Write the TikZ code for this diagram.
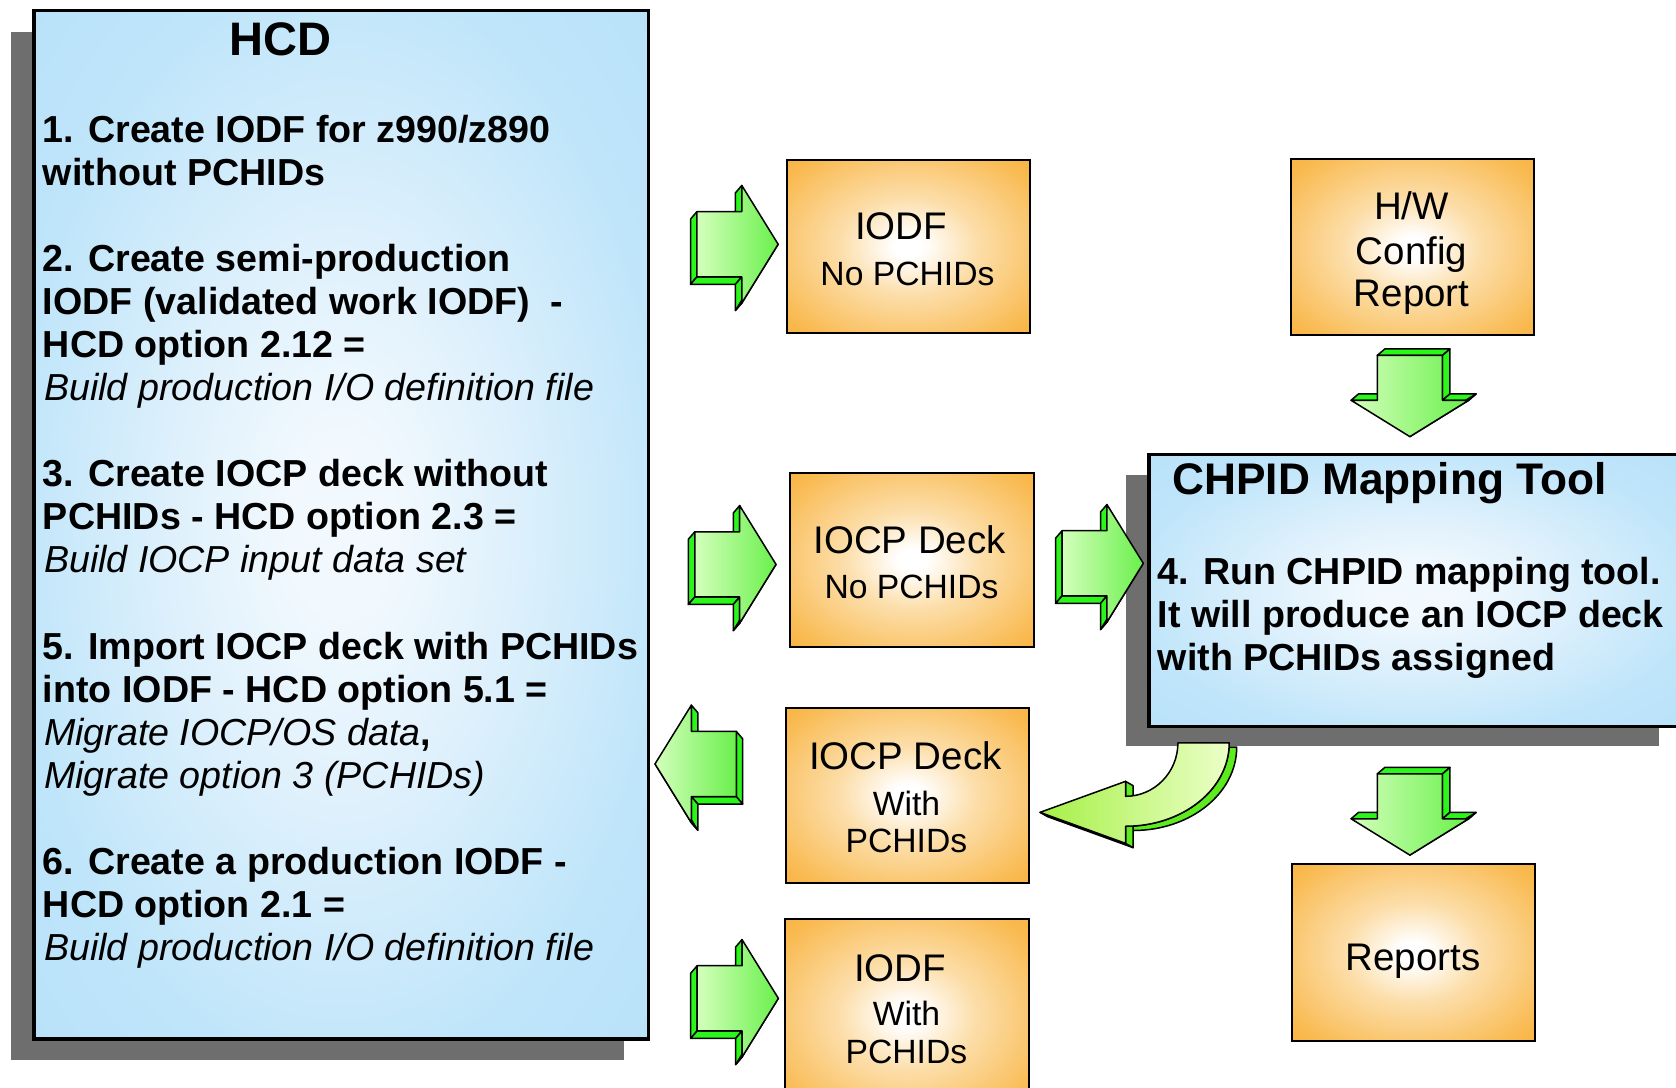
\documentclass[tikz,border=0pt]{standalone}
\usepackage{fontspec}
\setmainfont{Liberation Sans}
\definecolor{orE}{HTML}{F9B94E}
\definecolor{orD}{HTML}{F5A524}
\definecolor{orM}{HTML}{FCDEAA}
\definecolor{blE}{HTML}{BFE5FA}
\definecolor{blD}{HTML}{AEDBF7}
\definecolor{blM}{HTML}{E0F1FC}
\definecolor{blC}{HTML}{F2F9FE}
\definecolor{shadowgray}{HTML}{6E6E6E}
\definecolor{gLight}{HTML}{D4FFBC}
\definecolor{gDark}{HTML}{6AF04C}
\definecolor{gSide}{HTML}{2CF51C}
\definecolor{cLight}{HTML}{ECFFC8}
\definecolor{cDark}{HTML}{A6F046}
\definecolor{cSide}{HTML}{5CEB1E}
\pgfdeclareradialshading{orglow}{\pgfpoint{0bp}{0bp}}{color(0bp)=(white); color(3bp)=(white); color(14bp)=(orM); color(32bp)=(orE); color(50bp)=(orD); color(75bp)=(orD)}
\pgfdeclareradialshading{blglow}{\pgfpoint{0bp}{0bp}}{color(0bp)=(blC); color(4bp)=(blC); color(13bp)=(blM); color(27bp)=(blE); color(50bp)=(blD); color(75bp)=(blD)}
\newcommand\gblockshape{%
  \filldraw[gsidef] (-76,-30.5) -- (-82,-23.5) -- (-82,37.5) -- (-76,30.5) -- cycle;
  \filldraw[gsidef] (-82,37.5) -- (-40,37.5) -- (-34,30.5) -- (-76,30.5) -- cycle;
  \filldraw[gsidef] (-34,-55) -- (-40,-48) -- (-40,-23.5) -- (-34,-30.5) -- cycle;
  \filldraw[gsidef] (-34,30.5) -- (-40,37.5) -- (-40,62) -- (-34,55) -- cycle;
  \filldraw[gsidef] (-34,55) -- (-40,62) -- (-6,7) -- (0,0) -- cycle;
  \filldraw[gfront] (-76,-30.5) -- (-34,-30.5) -- (-34,-55) -- (0,0) -- (-34,55) -- (-34,30.5) -- (-76,30.5) -- cycle;
}
\begin{document}
\begin{tikzpicture}[x=1pt,y=-1pt,
  bluebox/.style={draw=black, line width=3.5pt, shading=blglow, anchor=north west, inner sep=0pt},
  orbox/.style={draw=black, line width=2pt, shading=orglow, anchor=north west, inner sep=0pt},
  gsidef/.style={draw=black, line width=1.4pt, line join=round, fill=gSide},
  gfront/.style={draw=black, line width=1.4pt, line join=round, left color=gLight, right color=gDark},
  csidef/.style={draw=black, line width=1.4pt, line join=round, fill=cSide},
  cfront/.style={draw=black, line width=1.4pt, line join=round, left color=cDark, right color=cLight},
  bodyb/.style={font=\fontsize{35.2}{40.3}\selectfont\bfseries, inner sep=0pt, anchor=base west},
  bodyi/.style={font=\fontsize{35.2}{40.3}\selectfont\itshape, inner sep=0pt, anchor=base west},
  bigtxt/.style={font=\fontsize{36}{40}\selectfont, inner sep=0pt, anchor=base},
  smalltxt/.style={font=\fontsize{31.5}{34}\selectfont, inner sep=0pt, anchor=base},
  titletxt/.style={font=\fontsize{44}{48}\selectfont\bfseries, inner sep=0pt}
]
\useasboundingbox (0,0) rectangle (1568,1017);
\clip (0,0) rectangle (1568,1017);

% shadows
\fill[shadowgray] (10,30) rectangle (584,992);
\fill[shadowgray] (1053,444.4) rectangle (1552,698);

% blue boxes
\node[bluebox, minimum width=575pt, minimum height=962pt] (hcd) at (30,8) {};
\node[bluebox, minimum width=499pt, minimum height=254.5pt] (chpid) at (1073,423.5) {};

% orange boxes
\node[orbox, minimum width=227.5pt, minimum height=162pt] (iodfno) at (735,148.5) {};
\node[orbox, minimum width=228.2pt, minimum height=163pt] (iocpno) at (738.4,441.3) {};
\node[orbox, minimum width=227.5pt, minimum height=163.8pt] (iocpwith) at (734.5,661) {};
\node[orbox, minimum width=227.6pt, minimum height=180pt] (iodfwith) at (733.7,859) {};
\node[orbox, minimum width=227pt, minimum height=164.7pt] (hw) at (1206.8,148) {};
\node[orbox, minimum width=227.3pt, minimum height=165.4pt] (reports) at (1207.7,807.6) {};

% HCD text
\node[titletxt, anchor=base] (hcdtitle) at (262.5,52) {HCD};
\node[bodyb] (h1) at (40,133) {1. Create IODF for z990/z890};
\node[bodyb] (h2) at (40,173.3) {without PCHIDs};
\node[bodyb] (h3) at (40,253.9) {2. Create semi-production};
\node[bodyb] (h4) at (40,294.2) {IODF (validated work IODF)\ \ -};
\node[bodyb] (h5) at (40,334.5) {HCD option 2.12 =};
\node[bodyi] (h6) at (41,374.8) {Build production I/O definition file};
\node[bodyb] (h7) at (40,455.4) {3. Create IOCP deck without};
\node[bodyb] (h8) at (40,495.7) {PCHIDs - HCD option 2.3 =};
\node[bodyi] (h9) at (41,536) {Build IOCP input data set};
\node[bodyb] (h10) at (40,616.6) {5. Import IOCP deck with PCHIDs};
\node[bodyb] (h11) at (40,656.9) {into IODF - HCD option 5.1 =};
\node[bodyi] (h12) at (41,697.2) {Migrate IOCP/OS data\textbf{\upshape ,}};
\node[bodyi] (h13) at (41,737.5) {Migrate option 3 (PCHIDs)};
\node[bodyb] (h14) at (40,818.1) {6. Create a production IODF -};
\node[bodyb] (h15) at (40,858.4) {HCD option 2.1 =};
\node[bodyi] (h16) at (41,898.7) {Build production I/O definition file};

% CHPID text
\node[font=\fontsize{41.4}{46}\selectfont\bfseries, inner sep=0pt, anchor=base west] (ctitle) at (1096.6,463) {CHPID Mapping Tool};
\node[bodyb] (c1) at (1083,547) {4. Run CHPID mapping tool.};
\node[bodyb] (c2) at (1083,587) {It will produce an IOCP deck};
\node[bodyb] (c3) at (1083,627) {with PCHIDs assigned};

% orange box texts
\node[bigtxt] (t1a) at (843,224.5) {IODF};
\node[smalltxt] (t1b) at (849,267) {No PCHIDs};
\node[bigtxt] (t2a) at (851,517.5) {IOCP Deck};
\node[smalltxt] (t2b) at (852.8,560) {No PCHIDs};
\node[bigtxt] (t3a) at (847,720.3) {IOCP Deck};
\node[smalltxt] (t3b) at (848,762.5) {With};
\node[smalltxt] (t3c) at (848,797.5) {PCHIDs};
\node[bigtxt] (t4a) at (842,918.4) {IODF};
\node[smalltxt] (t4b) at (848,959.5) {With};
\node[smalltxt] (t4c) at (848,995) {PCHIDs};
\node[bigtxt] (t5a) at (1320.6,205.8) {H/W};
\node[bigtxt] (t5b) at (1320.6,247.4) {Config};
\node[bigtxt] (t5c) at (1320.6,287) {Report};
\node[bigtxt] (t6a) at (1322,907.5) {Reports};

% green block arrows
\begin{scope}[shift={(728,228.5)}] \gblockshape \end{scope}
\begin{scope}[shift={(726,528)}] \gblockshape \end{scope}
\begin{scope}[shift={(1069.6,527)}] \gblockshape \end{scope}
\begin{scope}[shift={(728.2,934)}] \gblockshape \end{scope}
\begin{scope}[shift={(612.8,714.7)}, x={(-1pt,0pt)}] \gblockshape \end{scope}
\begin{scope}[shift={(1319,408.5)}, x={(0pt,-1pt)}, y={(1pt,0pt)}] \gblockshape \end{scope}
\begin{scope}[shift={(1319,800)}, x={(0pt,-1pt)}, y={(1pt,0pt)}] \gblockshape \end{scope}

% curved arrow
\filldraw[csidef] (1109,699) -- (1157,699) .. controls (1157,742) and (1114,777) .. (1060,777) -- (1060,793) -- (980,764) -- (973,760) -- (1053,789) -- (1053,773) .. controls (1107,773) and (1150,738) .. (1150,695) -- cycle;
\filldraw[csidef] (1053,731) -- (1060,735) -- (1060,793) -- (1053,789) -- cycle;
\filldraw[cfront] (1102,695) -- (1150,695) .. controls (1150,738) and (1107,773) .. (1053,773) -- (1053,789) -- (973,760) -- (1053,731) -- (1053,745) .. controls (1080,745) and (1102,722.6) .. (1102,695) -- cycle;
\end{tikzpicture}
\end{document}
